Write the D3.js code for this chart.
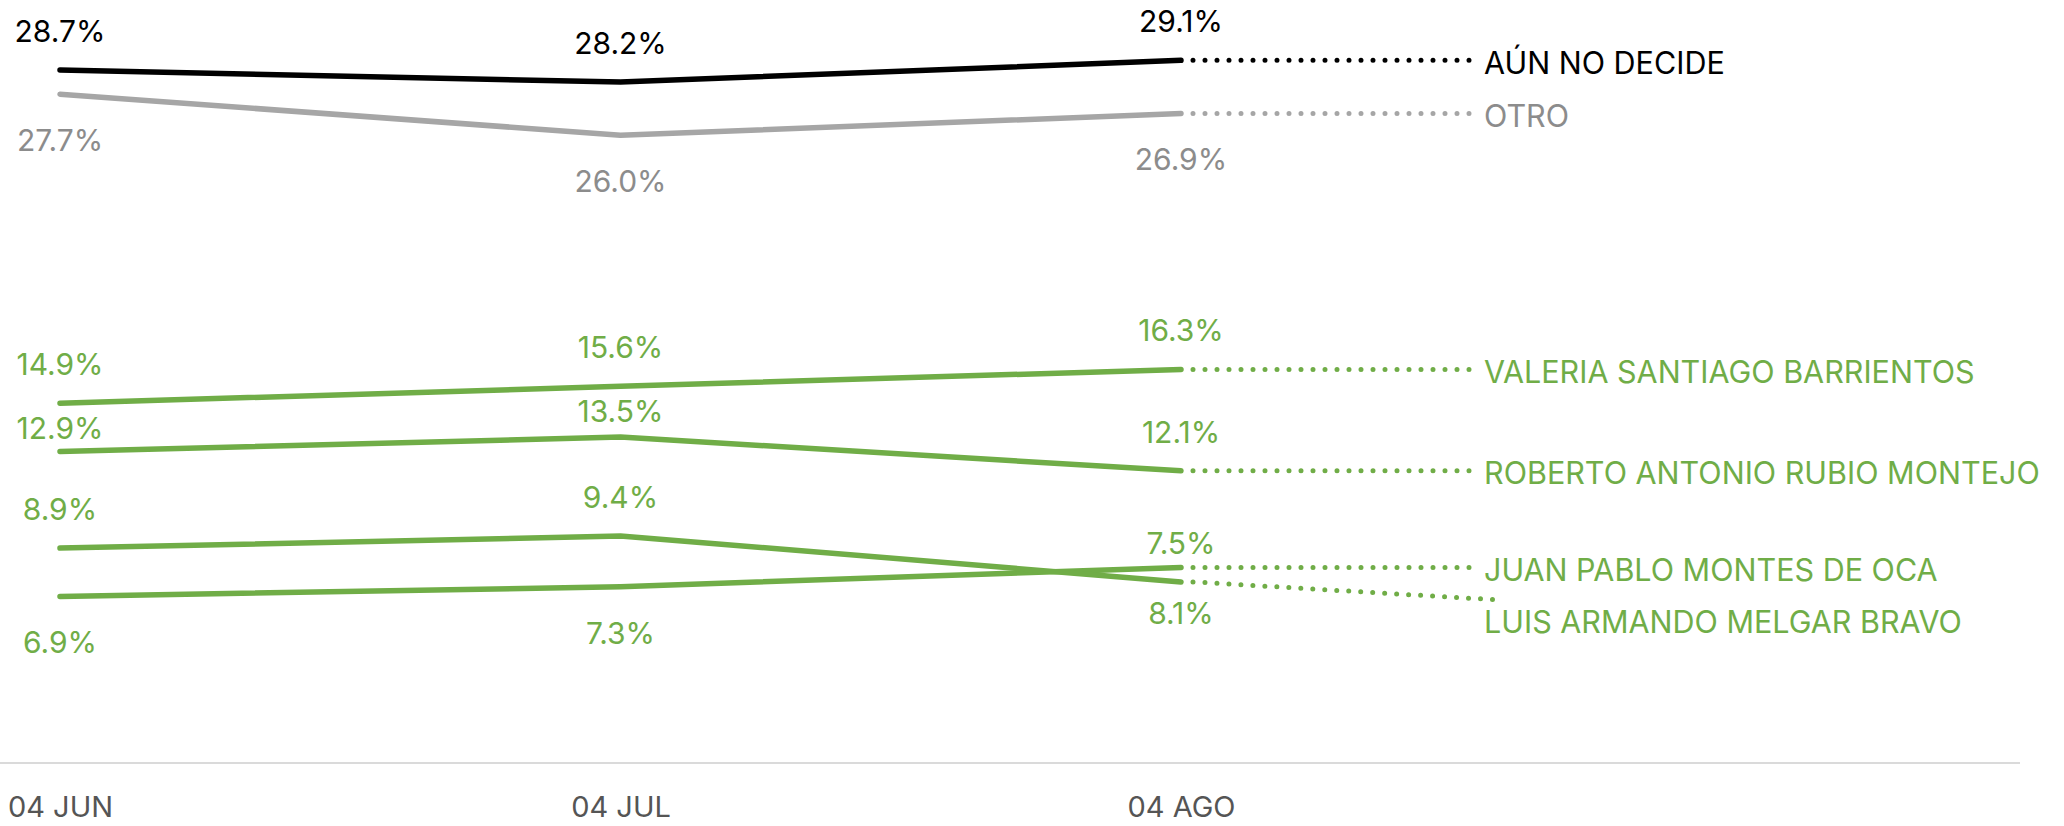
<!DOCTYPE html>
<html>
<head>
<meta charset="utf-8">
<script src="https://cdn.jsdelivr.net/npm/d3@7"></script>
<style>
  html, body { margin: 0; padding: 0; background: #fff; }
  svg { display: block; font-family: "Inter", "Lato", sans-serif; }
</style>
</head>
<body>
<div id="chart"></div>
<script>
const dates = ['04 JUN', '04 JUL', '04 AGO'];
const names = ['AÚN NO DECIDE', 'OTRO', 'VALERIA SANTIAGO BARRIENTOS', 'ROBERTO ANTONIO RUBIO MONTEJO', 'JUAN PABLO MONTES DE OCA', 'LUIS ARMANDO MELGAR BRAVO'];
const aunNoDecide = [28.7, 28.2, 29.1];
const otro = [27.7, 26.0, 26.9];
const valeria = [14.9, 15.6, 16.3];
const roberto = [12.9, 13.5, 12.1];
const juan = [6.9, 7.3, 8.1];
const luis = [8.9, 9.4, 7.5];

const values = [aunNoDecide, otro, valeria, roberto, juan, luis];
const lineColors = ['#000000', '#a6a6a6', '#70ad47', '#70ad47', '#70ad47', '#70ad47'];
const textColors = ['#000000', '#8c8c8c', '#70ad47', '#70ad47', '#70ad47', '#70ad47'];
const labelSide = ['above', 'below', 'above', 'above', 'below', 'above'];

const width = 2064, height = 826;

const svg = d3.select('#chart')
    .append('svg')
    .attr('width', width)
    .attr('height', height);

const x = d3.scalePoint()
    .domain(dates)
    .range([60, 1181]);

const y = d3.scaleLinear()
    .domain([0, 31.6])
    .range([763, 0]);

// baseline + tick labels
svg.append('line')
    .attr('x1', 0).attr('x2', 2020)
    .attr('y1', y(0)).attr('y2', y(0))
    .attr('stroke', '#dadada')
    .attr('stroke-width', 2);

const xAxis = svg.append('g')
    .attr('transform', `translate(0, ${y(0)})`)
    .call(d3.axisBottom(x).tickSize(0).tickPadding(33));
xAxis.select('.domain').remove();
xAxis.selectAll('text')
    .style('font-family', '"Inter", "Lato", sans-serif')
    .style('font-size', '29px')
    .style('fill', '#555');

const series = names.map((name, i) => ({
    name: name,
    i: i,
    values: values[i].map((v, j) => ({ date: dates[j], value: v }))
}));

const line = d3.line()
    .x(d => x(d.date))
    .y(d => y(d.value));

svg.selectAll('.line')
    .data(series)
    .enter()
    .append('path')
    .attr('class', 'line')
    .attr('d', d => line(d.values))
    .attr('fill', 'none')
    .attr('stroke', d => lineColors[d.i])
    .attr('stroke-width', 5.5)
    .attr('stroke-linecap', 'round')
    .attr('stroke-linejoin', 'round');

// value labels, nudged off a neighbouring line when they sit on it
const labels = [];
series.forEach(s => {
    s.values.forEach((p, j) => {
        const py = y(p.value);
        let ly = labelSide[s.i] === 'above' ? py - 39 : py + 46;
        if (labelSide[s.i] === 'above') {
            series.forEach(o => {
                if (o === s) return;
                const oy = y(o.values[j].value);
                if (oy < py && Math.abs(ly - oy) < 15) ly = oy + 25;
            });
        }
        labels.push({ s: s, x: x(p.date), y: ly, text: p.value.toFixed(1) + '%' });
    });
});

svg.selectAll('.value-label')
    .data(labels)
    .enter()
    .append('text')
    .attr('class', 'value-label')
    .attr('x', d => d.x)
    .attr('y', d => d.y)
    .attr('text-anchor', 'middle')
    .attr('dominant-baseline', 'central')
    .style('font-size', '30px')
    .style('fill', d => textColors[d.s.i])
    .text(d => d.text);

// end labels with dotted leaders
const lastDate = dates[dates.length - 1];
const ends = series.map(s => ({ s: s, y0: y(s.values[s.values.length - 1].value) }))
    .sort((a, b) => a.y0 - b.y0);
let prev = -Infinity;
ends.forEach(e => {
    e.ly = Math.max(e.y0, prev + 52);
    prev = e.ly;
});

const leaderStart = x(lastDate) + 12;
const leaderEnd = 1470;
const labelX = 1484;

svg.selectAll('.leader')
    .data(ends)
    .enter()
    .append('line')
    .attr('class', 'leader')
    .attr('x1', leaderStart)
    .attr('y1', d => d.y0)
    .attr('x2', d => d.ly === d.y0 ? leaderEnd : leaderEnd + 24)
    .attr('y2', d => d.ly === d.y0 ? d.y0 : (d.y0 + d.ly) / 2 - 1)
    .attr('stroke', d => lineColors[d.s.i])
    .attr('stroke-width', 5)
    .attr('stroke-linecap', 'round')
    .attr('stroke-dasharray', '0 12');

svg.selectAll('.end-label')
    .data(ends)
    .enter()
    .append('text')
    .attr('class', 'end-label')
    .attr('x', labelX)
    .attr('y', d => d.ly + 2)
    .attr('dominant-baseline', 'central')
    .style('font-size', '30.5px')
    .style('fill', d => textColors[d.s.i])
    .text(d => d.s.name);
</script>
</body>
</html>
